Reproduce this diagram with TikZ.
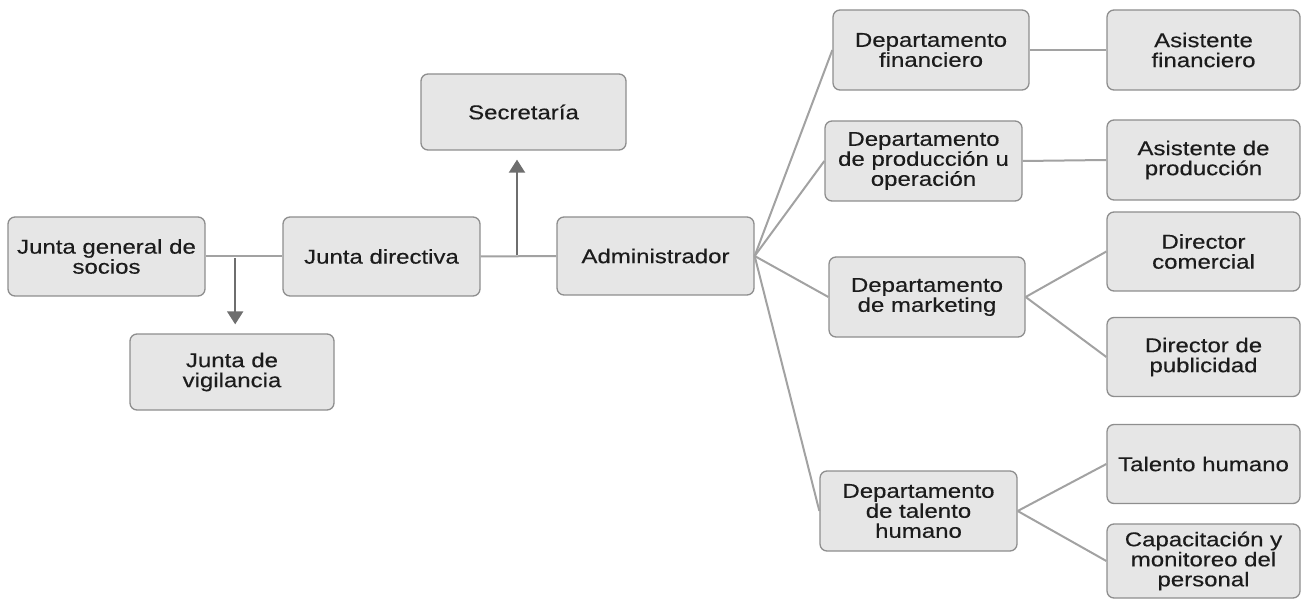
\documentclass[tikz,border=0pt]{standalone}
\usepackage{fontspec}
\setmainfont[FakeStretch=1.2,FakeBold=0.35]{Liberation Sans}
\usetikzlibrary{calc,arrows.meta}
\definecolor{boxfill}{HTML}{E6E6E6}
\definecolor{boxline}{HTML}{8E8E8E}
\definecolor{conn}{HTML}{A2A2A2}
\definecolor{arr}{HTML}{6E6E6E}
\definecolor{txt}{HTML}{1C1C1C}
\tikzset{
  orgbox/.style={draw=boxline, fill=boxfill, rounded corners=7pt, line width=1.3pt,
    align=center, inner sep=0pt, text=txt,
    font=\fontsize{20}{20}\selectfont},
  link/.style={draw=conn, line width=2pt},
  uparrow/.style={draw=arr, line width=2pt, -{Triangle[width=16pt,length=13pt]}}
}
\newcommand{\bx}[6]{\node[orgbox, minimum width=#4pt, minimum height=#5pt] (#1) at (#2,#3) {#6};}
\begin{document}
\begin{tikzpicture}[x=1pt,y=-1pt]
\useasboundingbox (0,0) rectangle (1305,601);
\bx{jg}{106.5}{256.5}{197}{79}{Junta general de\\socios}
\bx{jd}{381.5}{256.5}{197}{79}{Junta directiva}
\bx{jv}{232}{372}{204}{76}{Junta de\\vigilancia}
\bx{sec}{523.5}{112}{205}{76}{Secretaría}
\bx{adm}{655.5}{256}{197}{78}{Administrador}
\bx{dfin}{931}{50}{196}{80}{Departamento\\financiero}
\bx{afin}{1203.5}{50}{193}{80}{Asistente\\financiero}
\bx{dprod}{923.5}{161}{197}{80}{Departamento\\de producción u\\operación}
\bx{aprod}{1203.5}{160}{193}{80}{Asistente de\\producción}
\bx{dmkt}{927}{297}{196}{80}{Departamento\\de marketing}
\bx{dcom}{1203.5}{251.5}{193}{79}{Director\\comercial}
\bx{dpub}{1203.5}{357}{193}{79}{Director de\\publicidad}
\bx{dth}{918.5}{511}{197}{80}{Departamento\\de talento\\humano}
\bx{th}{1203.5}{464}{193}{79}{Talento humano}
\bx{cap}{1203.5}{561}{193}{74}{Capacitación y\\monitoreo del\\personal}

\draw[link] (jg.east) -- (jd.west);
\draw[link] (jd.east) -- (adm.west);
\foreach \d in {dfin,dprod,dmkt,dth}{\draw[link] (adm.east) -- (\d.west);}
\draw[link] (dfin.east) -- (afin.west);
\draw[link] (dprod.east) -- (aprod.west);
\draw[link] (dmkt.east) -- (dcom.west);
\draw[link] (dmkt.east) -- (dpub.west);
\draw[link] (dth.east) -- (th.west);
\draw[link] (dth.east) -- (cap.west);

\coordinate (a1s) at ($(jg.east)!0.385!(jd.west)+(0,2)$);
\coordinate (a1e) at ($(a1s |- jv.north)+(0,-9)$);
\draw[uparrow] (a1s) -- (a1e);
\coordinate (a2s) at ($(jd.east)!0.48!(adm.west)+(0,-1)$);
\coordinate (a2e) at ($(a2s |- sec.south)+(0,9)$);
\draw[uparrow] (a2s) -- (a2e);
\end{tikzpicture}
\end{document}
